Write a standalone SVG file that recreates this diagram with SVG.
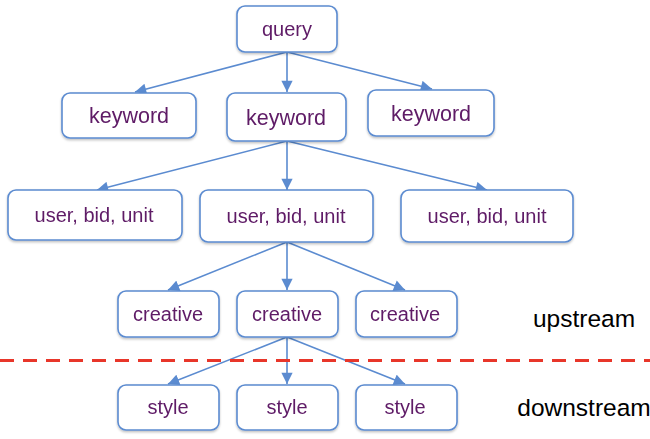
<svg xmlns="http://www.w3.org/2000/svg" width="650" height="439" viewBox="0 0 650 439">
<style>
.box{fill:#fff;stroke:#5b8bd0;stroke-width:1.6}
.t{font-family:"Liberation Sans",Arial,sans-serif;font-size:20px;fill:#5e1a66;text-anchor:middle}
.k{font-size:21.5px}
.lab{font-family:"Liberation Sans",Arial,sans-serif;font-size:24.5px;fill:#000;text-anchor:middle}
.c{stroke:#5b8bd0;stroke-width:1.6;fill:none;marker-end:url(#ah)}
</style>
<defs>
<marker id="ah" viewBox="0 0 10 10" refX="10" refY="5" markerWidth="7.5" markerHeight="7" markerUnits="strokeWidth" orient="auto">
<path d="M0,0 L10,5 L0,10 z" fill="#5b8bd0"/>
</marker>
<filter id="sh" x="-10%" y="-10%" width="120%" height="130%">
<feDropShadow dx="0" dy="1.5" stdDeviation="1" flood-color="#000" flood-opacity="0.25"/>
</filter>
</defs>
<g id="connectors">
<line class="c" x1="287" y1="52" x2="135" y2="92"/>
<line class="c" x1="287" y1="52" x2="287" y2="92"/>
<line class="c" x1="287" y1="52" x2="432" y2="89"/>
<line class="c" x1="287" y1="141" x2="97" y2="190"/>
<line class="c" x1="287" y1="141" x2="287" y2="190"/>
<line class="c" x1="287" y1="141" x2="487" y2="190"/>
<line class="c" x1="287" y1="242" x2="168" y2="290"/>
<line class="c" x1="287" y1="242" x2="287" y2="290"/>
<line class="c" x1="287" y1="242" x2="405" y2="290"/>
<line class="c" x1="287" y1="337" x2="168" y2="384"/>
<line class="c" x1="287" y1="337" x2="287" y2="384"/>
<line class="c" x1="287" y1="337" x2="405" y2="384"/>
</g>
<line id="divider" x1="0" y1="360.5" x2="650" y2="360.5" stroke="#e8362a" stroke-width="3" stroke-dasharray="14,9"/>
<g id="query" filter="url(#sh)"><rect class="box" x="237" y="6" width="100" height="46" rx="8"/><text class="t" x="287" y="36">query</text></g>
<g id="keyword1" filter="url(#sh)"><rect class="box" x="62" y="93" width="134" height="45" rx="8"/><text class="t k" x="129" y="123">keyword</text></g>
<g id="keyword2" filter="url(#sh)"><rect class="box" x="227" y="93" width="119" height="48" rx="8"/><text class="t k" x="286" y="125">keyword</text></g>
<g id="keyword3" filter="url(#sh)"><rect class="box" x="368" y="90" width="126" height="46" rx="8"/><text class="t k" x="431" y="121">keyword</text></g>
<g id="ubu1" filter="url(#sh)"><rect class="box" x="8" y="190" width="174" height="50" rx="8"/><text class="t" x="94" y="222">user, bid, unit</text></g>
<g id="ubu2" filter="url(#sh)"><rect class="box" x="200" y="190" width="173" height="52" rx="8"/><text class="t" x="286" y="223">user, bid, unit</text></g>
<g id="ubu3" filter="url(#sh)"><rect class="box" x="401" y="190" width="172" height="52" rx="8"/><text class="t" x="487" y="223">user, bid, unit</text></g>
<g id="creative1" filter="url(#sh)"><rect class="box" x="118" y="291" width="101" height="46" rx="8"/><text class="t" x="168" y="321">creative</text></g>
<g id="creative2" filter="url(#sh)"><rect class="box" x="237" y="291" width="101" height="46" rx="8"/><text class="t" x="287" y="321">creative</text></g>
<g id="creative3" filter="url(#sh)"><rect class="box" x="356" y="291" width="101" height="46" rx="8"/><text class="t" x="405" y="321">creative</text></g>
<g id="style1" filter="url(#sh)"><rect class="box" x="118" y="385" width="101" height="45" rx="8"/><text class="t" x="168" y="414">style</text></g>
<g id="style2" filter="url(#sh)"><rect class="box" x="237" y="385" width="101" height="45" rx="8"/><text class="t" x="287" y="414">style</text></g>
<g id="style3" filter="url(#sh)"><rect class="box" x="356" y="385" width="101" height="45" rx="8"/><text class="t" x="405" y="414">style</text></g>
<text class="lab" x="584" y="327">upstream</text>
<text class="lab" x="584" y="416">downstream</text>
</svg>
